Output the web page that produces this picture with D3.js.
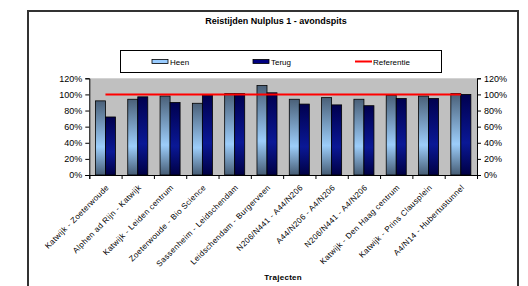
<!DOCTYPE html>
<html><head><meta charset="utf-8">
<script src="https://cdn.jsdelivr.net/npm/d3@7"></script>
<style>body{margin:0;background:#fff}svg{display:block;font-family:Arial,"Liberation Sans",sans-serif}</style>
</head><body><svg id="c" width="528" height="286"></svg>
<script>
const categories = ["Katwijk - Zoeterwoude","Alphen ad Rijn - Katwijk","Katwijk - Leiden centrum","Zoeterwoude - Bio Science","Sassenheim - Leidschendam","Leidschendam - Burgerveen","N206/N441 - A44/N206","A44/N206 - A4/N206","N206/N441 - A4/N206","Katwijk - Den Haag centrum","Katwijk - Prins Clausplein","A4/N14 - Hubertustunnel"];
const heen  = [0.92,0.94,0.98,0.89,1.01,1.11,0.94,0.96,0.94,0.99,0.98,1.01];
const terug = [0.72,0.97,0.90,0.99,1.01,1.02,0.88,0.87,0.86,0.95,0.95,1.00];
const referentie = [1,1,1,1,1,1,1,1,1,1,1,1];
const yTicks = [0,0.2,0.4,0.6,0.8,1.0,1.2];
const seriesNames = ["Heen","Terug","Referentie"];
const title = "Reistijden Nulplus 1 - avondspits";
const xTitle = "Trajecten";

const svg = d3.select("#c");
const P = {l:89.3, r:477, t:78.3, b:175};
const defs = svg.append("defs");
function grad(id, stops){
  const g = defs.append("linearGradient").attr("id",id).attr("x1",0).attr("y1",0).attr("x2",0).attr("y2",1);
  stops.forEach(s=>g.append("stop").attr("offset",s[0]).attr("stop-color",s[1]));
}
grad("gH",[[0,"#4a6078"],[0.62,"#9ccdfa"],[1,"#465c74"]]);
grad("gT",[[0,"#00004e"],[0.6,"#0a1896"],[1,"#000044"]]);

// chart border
svg.append("rect").attr("x",28).attr("y",11).attr("width",490).attr("height",280)
  .attr("fill","#fff").attr("stroke","#333").attr("stroke-width",2);

svg.append("text").attr("x",276).attr("y",24).attr("text-anchor","middle")
  .attr("font-size",9).attr("font-weight","bold").text(title);

// plot area
svg.append("rect").attr("x",P.l).attr("y",P.t).attr("width",P.r-P.l).attr("height",P.b-P.t).attr("fill","#c0c0c0");

const x = d3.scaleBand().domain(categories).range([P.l,P.r]).paddingInner(0.38).paddingOuter(0.19);
const x1 = d3.scaleBand().domain(["Heen","Terug"]).range([0,x.bandwidth()]);
const y = d3.scaleLinear().domain([0,1.2]).range([P.b,P.t]);

const rows = categories.map((c,i)=>({c, Heen:heen[i], Terug:terug[i]}));
const g = svg.append("g");
rows.forEach(r=>{
  ["Heen","Terug"].forEach(s=>{
    g.append("rect").attr("x",x(r.c)+x1(s)).attr("y",y(r[s]))
      .attr("width",x1.bandwidth()).attr("height",y(0)-y(r[s]))
      .attr("fill",s==="Heen"?"url(#gH)":"url(#gT)").attr("stroke","#000").attr("stroke-width",0.8);
  });
});

// referentie line
const line = d3.line().x((d,i)=>x(categories[i])+x.bandwidth()/2).y(d=>y(d));
svg.append("path").datum(referentie).attr("d",line).attr("fill","none").attr("stroke","#ff0000").attr("stroke-width",2);

// axes
const fmt = d3.format(".0%");
const yl = svg.append("g").attr("transform",`translate(${P.l},0)`).call(d3.axisLeft(y).tickValues(yTicks).tickFormat(fmt).tickSize(4).tickPadding(3));
const yr = svg.append("g").attr("transform",`translate(${P.r},0)`).call(d3.axisRight(y).tickValues(yTicks).tickFormat(fmt).tickSize(4).tickPadding(3));
[yl,yr].forEach(a=>{a.select(".domain").attr("stroke","#000");a.selectAll("text").attr("font-size",9).attr("fill","#000");a.attr("font-family",null)});

const xi = d3.scaleLinear().domain([0,categories.length]).range([P.l,P.r]);
const xa = svg.append("g").attr("transform",`translate(0,${P.b})`).call(d3.axisBottom(xi).tickValues(d3.range(categories.length+1)).tickFormat("").tickSize(4));
xa.select(".domain").attr("stroke","#000");
xa.attr("font-family",null);

svg.append("g").selectAll("text").data(categories).join("text")
  .attr("transform",d=>`translate(${x(d)+x.bandwidth()/2+2},${P.b+11}) rotate(-45)`)
  .attr("text-anchor","end").attr("font-size",8).attr("letter-spacing","0.35px").attr("dy","0.35em").text(d=>d);

svg.append("text").attr("x",(P.l+P.r)/2).attr("y",280).attr("text-anchor","middle")
  .attr("font-size",8).attr("font-weight","bold").attr("letter-spacing","0.3px").text(xTitle);

// legend
svg.append("rect").attr("x",120.5).attr("y",50.5).attr("width",321).attr("height",22).attr("fill","#fff").attr("stroke","#000").attr("stroke-width",1);
const lg = [{n:seriesNames[0],x:152,t:"bar",f:"#99ccff"},{n:seriesNames[1],x:253,t:"bar",f:"#000080"},{n:seriesNames[2],x:355,t:"line"}];
lg.forEach(d=>{
  if(d.t==="bar") svg.append("rect").attr("x",d.x).attr("y",59.5).attr("width",16).attr("height",4).attr("fill",d.f).attr("stroke","#000").attr("stroke-width",0.8);
  else svg.append("line").attr("x1",d.x).attr("x2",d.x+17).attr("y1",61.5).attr("y2",61.5).attr("stroke","#ff0000").attr("stroke-width",2);
  svg.append("text").attr("x",d.x+18).attr("y",64.5).attr("font-size",8).text(d.n);
});
</script></body></html>
